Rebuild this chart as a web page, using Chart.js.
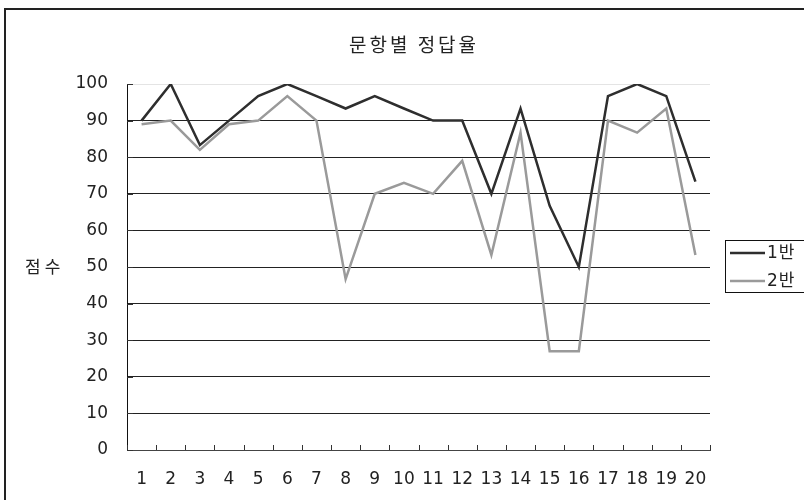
<!DOCTYPE html>
<html>
<head>
<meta charset="utf-8">
<script src="https://cdn.jsdelivr.net/npm/chart.js@4.4.1/dist/chart.umd.min.js"></script>
<style>
  html, body { margin: 0; padding: 0; background: #fff; }
  #wrap { width: 804px; height: 500px; }
</style>
</head>
<body>
<div id="wrap"><canvas id="grafico"></canvas></div>
<script>
// Datos del gráfico
const preguntas = ['1','2','3','4','5','6','7','8','9','10','11','12','13','14','15','16','17','18','19','20'];
const clase1 = [90, 100, 83.3, 90, 96.7, 100, 96.7, 93.3, 96.7, 93.3, 90, 90, 70, 93.3, 66.7, 50, 96.7, 100, 96.7, 73.3];
const clase2 = [89, 90, 82, 89, 90, 96.7, 90, 46.7, 70, 73, 70, 79, 53.3, 86.7, 27, 27, 90, 86.7, 93.3, 53.3];
const nombres = ['1반', '2반'];
const colores = ['#2e2e2e', '#9a9a9a'];
const titulo = '문항별 정답율';
const tituloEje = '점수';

const fuente = "'DejaVu Sans', 'Noto Sans CJK KR', sans-serif";

// Título, marco, título del eje, ticks interiores y leyenda
const extras = {
  id: 'extras',
  afterDraw(chart) {
    const ctx = chart.ctx;
    const x = chart.scales.x;
    const y = chart.scales.y;
    ctx.save();

    // marcas del eje x (hacia adentro)
    ctx.strokeStyle = '#333';
    ctx.lineWidth = 1;
    const paso = (x.right - x.left) / preguntas.length;
    for (let i = 0; i <= preguntas.length; i++) {
      const px = Math.round(x.left + i * paso) + 0.5;
      ctx.beginPath();
      ctx.moveTo(px, y.bottom - 5);
      ctx.lineTo(px, y.bottom);
      ctx.stroke();
    }
    // marcas del eje y
    y.ticks.forEach(t => {
      const py = Math.round(y.getPixelForValue(t.value)) + 0.5;
      ctx.beginPath();
      ctx.moveTo(y.right, py);
      ctx.lineTo(y.right + 6, py);
      ctx.stroke();
    });

    // título del gráfico
    ctx.fillStyle = '#222';
    ctx.textBaseline = 'middle';
    ctx.font = "19px 'Noto Sans CJK KR', sans-serif";
    ctx.letterSpacing = '3px';
    ctx.textAlign = 'center';
    ctx.fillText(titulo, chart.width / 2 + 12, 45);

    // título del eje y (horizontal)
    ctx.font = "17px 'Noto Sans CJK KR', sans-serif";
    ctx.letterSpacing = '4px';
    ctx.textAlign = 'left';
    ctx.fillText(tituloEje, 25, y.getPixelForValue(50));

    // leyenda con borde
    const lx = 725, ly = 240, lh = 52;
    ctx.strokeStyle = '#111';
    ctx.lineWidth = 1;
    ctx.strokeRect(lx + 0.5, ly + 0.5, 120, lh);
    ctx.font = '17px ' + fuente;
    ctx.letterSpacing = '1px';
    chart.data.datasets.forEach((ds, i) => {
      const cy = ly + 13 + i * 28;
      ctx.strokeStyle = ds.borderColor;
      ctx.lineWidth = 2.5;
      ctx.beginPath();
      ctx.moveTo(lx + 5, cy);
      ctx.lineTo(lx + 40, cy);
      ctx.stroke();
      ctx.fillStyle = '#222';
      ctx.fillText(ds.label, lx + 42, cy + 1);
    });

    // marco exterior
    ctx.letterSpacing = '0px';
    ctx.strokeStyle = '#222';
    ctx.lineWidth = 2;
    ctx.strokeRect(5, 9, 900, 600);
    ctx.restore();
  }
};

const ctx = document.getElementById('grafico').getContext('2d');
const grafico = new Chart(ctx, {
  type: 'line',
  data: {
    labels: preguntas,
    datasets: nombres.map((n, i) => ({
      label: n,
      data: i === 0 ? clase1 : clase2,
      borderColor: colores[i],
      backgroundColor: colores[i],
      borderWidth: 2.5,
      pointRadius: 0,
      tension: 0
    }))
  },
  options: {
    responsive: true,
    maintainAspectRatio: false,
    animation: false,
    layout: { padding: { left: 0, right: 94, top: 84, bottom: 0 } },
    plugins: {
      legend: { display: false },
      tooltip: { enabled: false },
      title: { display: false }
    },
    scales: {
      x: {
        type: 'category',
        offset: true,
        grid: { display: false, drawTicks: false, offset: true },
        border: { display: true, color: '#444', width: 1 },
        ticks: { color: '#222', padding: 19, maxRotation: 0, autoSkip: false, font: { family: fuente, size: 17 } },
        afterFit(s) { s.height = 50; }
      },
      y: {
        min: 0,
        max: 100,
        ticks: { stepSize: 10, color: '#222', padding: 19, font: { family: fuente, size: 17 } },
        grid: {
          drawTicks: false,
          color: c => (c.tick && c.tick.value === 100) ? '#e4e4e4' : '#222',
          lineWidth: 1
        },
        border: { display: true, color: '#111', width: 1 },
        afterFit(s) { s.width = 127; }
      }
    }
  },
  plugins: [extras]
});
</script>
</body>
</html>
